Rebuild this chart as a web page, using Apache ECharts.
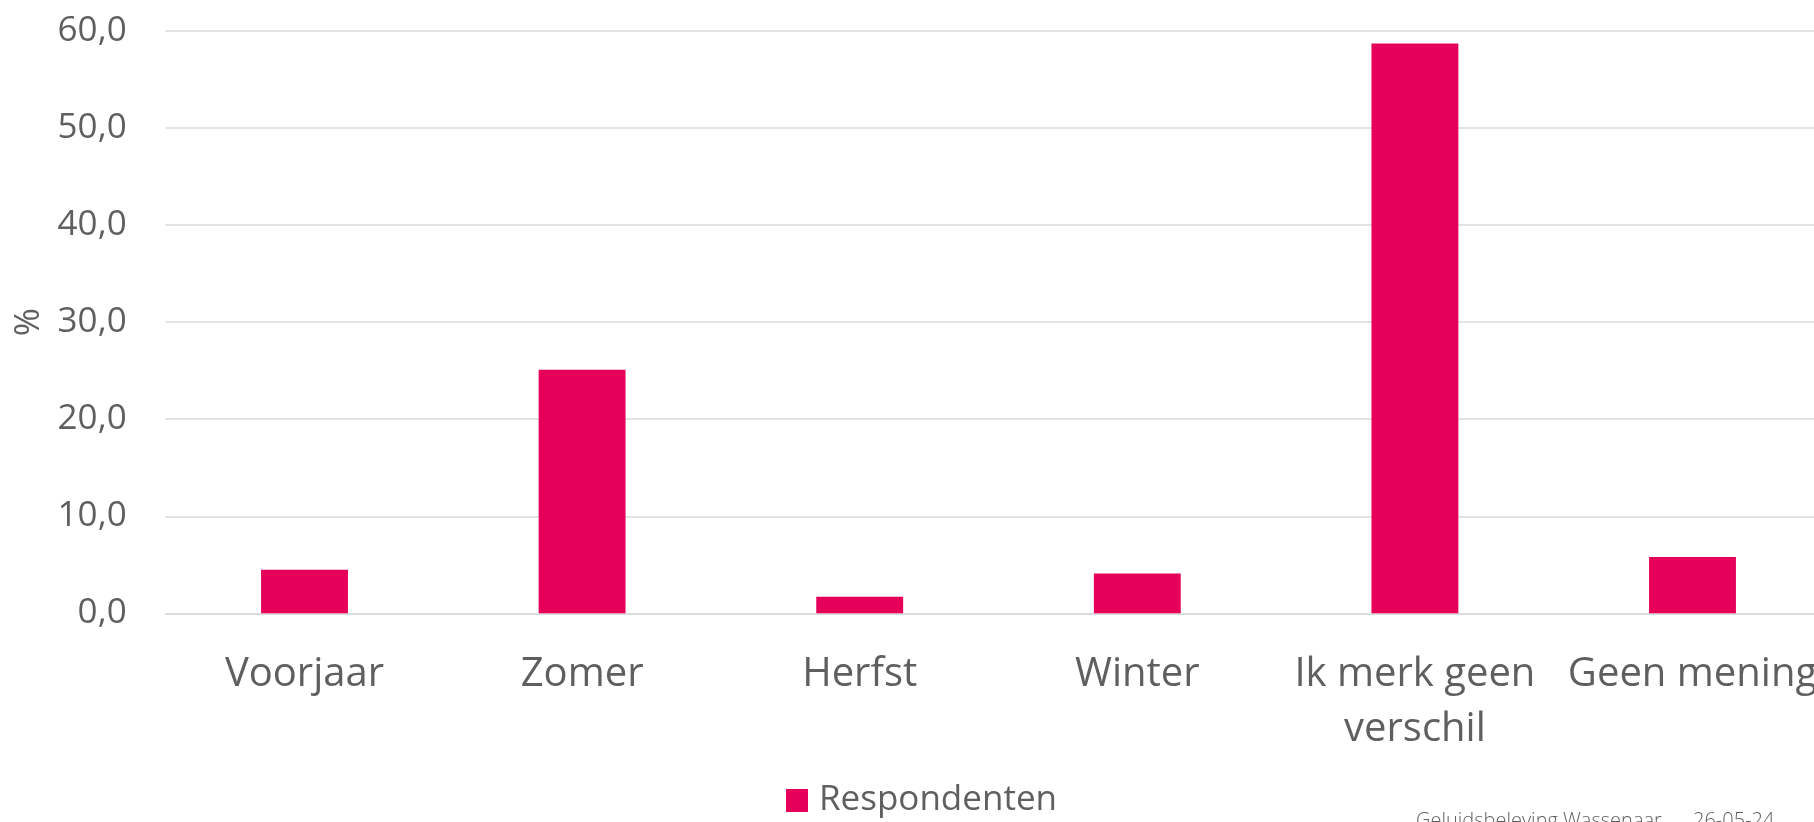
<!DOCTYPE html>
<html>
<head>
<meta charset="utf-8">
<script src="https://cdn.jsdelivr.net/npm/echarts@6/dist/echarts.min.js"></script>
<style>
  html, body { margin: 0; padding: 0; background: #ffffff; }
  #chart { width: 1814px; height: 822px; }
</style>
</head>
<body>
<div id="chart"></div>
<script>
const categories = ['Voorjaar', 'Zomer', 'Herfst', 'Winter', 'Ik merk geen\nverschil', 'Geen mening'];
const respondenten = [4.5, 25.1, 1.7, 4.1, 58.7, 5.8];
const seriesName = 'Respondenten';
const yAxisName = '%';
const footerText = 'Geluidsbeleving Wassenaar      26-05-24';

const FONT = '"Open Sans", "Noto Sans", sans-serif';
const TEXT = '#5f5f5f';
const GRID = '#d9d9d9';

const chart = echarts.init(document.getElementById('chart'), null, { renderer: 'canvas' });
chart.setOption({
  backgroundColor: '#ffffff',
  animation: false,
  textStyle: { fontFamily: FONT },
  grid: {
    left: 165.7, right: -17.3, top: 31, bottom: 208.7,
    containLabel: false,
    outerBoundsMode: 'none'
  },
  legend: {
    data: [seriesName],
    left: 781,
    top: 778,
    icon: 'rect',
    itemWidth: 22,
    itemHeight: 23,
    textStyle: { fontFamily: FONT, fontSize: 35, color: TEXT, padding: [10, 0, 0, 6] }
  },
  xAxis: {
    type: 'category',
    data: categories,
    axisLine: { show: true, lineStyle: { color: GRID, width: 1.5 } },
    axisTick: { show: false },
    axisLabel: {
      interval: 0,
      fontFamily: FONT,
      fontSize: 40,
      color: TEXT,
      margin: 34,
      lineHeight: 55
    }
  },
  yAxis: {
    type: 'value',
    min: 0,
    max: 60,
    interval: 10,
    name: yAxisName,
    nameLocation: 'middle',
    nameGap: 118,
    nameTextStyle: { fontFamily: FONT, fontSize: 34, color: TEXT },
    axisLine: { show: false },
    axisTick: { show: false },
    splitLine: { show: true, lineStyle: { color: GRID, width: 1.5 } },
    axisLabel: {
      fontFamily: FONT,
      fontSize: 35,
      color: TEXT,
      margin: 39,
      formatter: function (v) { return v.toFixed(1).replace('.', ','); }
    }
  },
  series: [{
    name: seriesName,
    type: 'bar',
    data: respondenten,
    barWidth: '31.3%',
    itemStyle: { color: '#e6005a' }
  }],
  graphic: [{
    type: 'text',
    left: 1416,
    top: 811,
    style: {
      text: footerText,
      fontFamily: FONT,
      fontSize: 20,
      fontWeight: 300,
      fill: TEXT
    }
  }]
});
</script>
</body>
</html>
